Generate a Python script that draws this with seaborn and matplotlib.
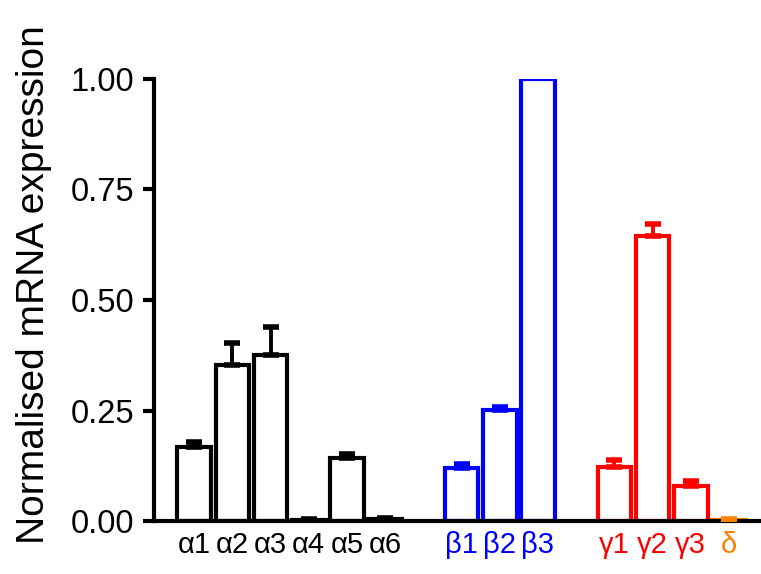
import matplotlib
matplotlib.use("Agg")
import matplotlib.pyplot as plt
import seaborn as sns
import pandas as pd

# subunits, values and upper error (SEM)
subunits = ['α1', 'α2', 'α3', 'α4', 'α5', 'α6', 'β1', 'β2', 'β3', 'γ1', 'γ2', 'γ3', 'δ']
expression = [0.168, 0.352, 0.376, 0.003, 0.143, 0.004, 0.120, 0.251, 1.000, 0.122, 0.645, 0.080, 0.003]
sem = [0.010, 0.050, 0.062, 0.001, 0.009, 0.002, 0.010, 0.006, 0.0, 0.016, 0.027, 0.010, 0.001]
families = ['a'] * 6 + ['b'] * 3 + ['g'] * 3 + ['d']
family_colors = {'a': 'black', 'b': '#0000ff', 'g': '#ff0000', 'd': '#ff8000'}

# blank slots separate the families on the x axis
order = ['α1', 'α2', 'α3', 'α4', 'α5', 'α6', ' ', 'β1', 'β2', 'β3', '  ', 'γ1', 'γ2', 'γ3', 'δ']

df = pd.DataFrame({'subunit': subunits, 'expr': expression, 'sem': sem, 'family': families})
palette = {s: family_colors[f] for s, f in zip(subunits, families)}

plt.rcParams['font.family'] = ['Liberation Sans', 'DejaVu Sans']
fig = plt.figure(figsize=(7.61, 5.74), dpi=100)
ax = fig.add_axes([0.2024, 0.0923, 0.7976, 0.7701])

sns.barplot(data=df, x='subunit', y='expr', hue='subunit', order=order,
            palette=palette, fill=False, width=0.88, linewidth=3.0,
            legend=False, ax=ax)

# upper-only error bars in the bar colours
for s, v, e in zip(subunits, expression, sem):
    if e <= 0:
        continue
    ax.errorbar(order.index(s), v, yerr=[[0], [e]], fmt='none', ecolor=palette[s],
                elinewidth=2.8, capsize=6, capthick=4, zorder=3)

ax.set_xlim(-1.05, 14.84)
ax.set_ylim(0, 1.0)
ax.set_yticks([0, 0.25, 0.5, 0.75, 1.0])
ax.set_yticklabels(['0.00', '0.25', '0.50', '0.75', '1.00'])
ax.set_xlabel('')
ax.set_ylabel('Normalised mRNA expression', fontsize=28)
ax.yaxis.set_label_coords(-0.168, 0.535)

for side in ['top', 'right']:
    ax.spines[side].set_visible(False)
for side in ['left', 'bottom']:
    ax.spines[side].set_linewidth(3.0)
ax.spines['left'].set_bounds(0, 1.0)

ax.tick_params(axis='y', labelsize=23.5, width=3.0, length=8, pad=6)
ax.tick_params(axis='x', labelsize=21, length=0, pad=7)
for lbl in ax.get_xticklabels():
    t = lbl.get_text().strip()
    if t in palette:
        lbl.set_color(palette[t])

fig.savefig('out.png', dpi=100)
